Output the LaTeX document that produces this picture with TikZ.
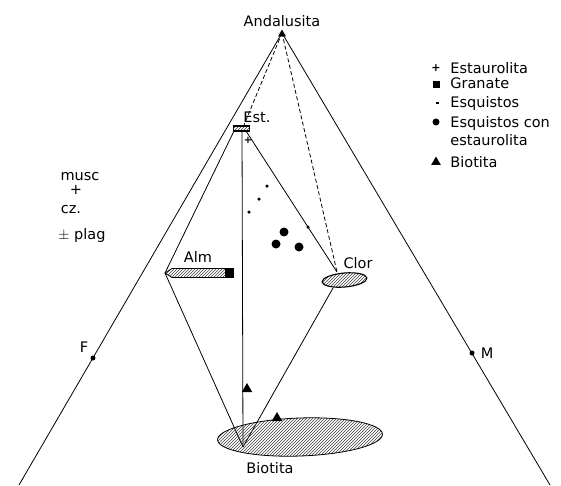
\documentclass[tikz,border=0pt]{standalone}
\usepackage{fontspec}
\setmainfont{DejaVu Sans}
\usetikzlibrary{patterns,shapes.geometric}
\begin{document}
\begin{tikzpicture}[x=1pt,y=-1pt,line width=0.8pt,
  lbl/.style={font=\fontsize{14.5}{16}\selectfont,inner sep=0pt},
  hatch/.style={pattern=north east lines,pattern color=black!75},
  sdot/.style={circle,fill,inner sep=0pt,minimum size=3.5pt},
  bdot/.style={circle,fill,inner sep=0pt,minimum size=9pt},
  tri/.style={regular polygon,regular polygon sides=3,fill,inner sep=0pt,minimum size=12pt},
  dsh/.style={dash pattern=on 4pt off 2.5pt}]
\useasboundingbox (0,0) rectangle (561,485);
% triangle
\coordinate (A) at (282,33);
\coordinate (BL) at (19,485);
\coordinate (BR) at (550,485);
\coordinate (Fpt) at (93,358);
\coordinate (Mpt) at (472,353);
\draw (BL) -- (A) -- (BR);
\node[tri,minimum size=9pt] (apex) at (282,34) {};
\node[sdot,minimum size=5pt] (fdot) at (Fpt) {};
\node[sdot,minimum size=5pt] (mdot) at (Mpt) {};
\node[lbl,anchor=base] (flab) at (84,352) {F};
\node[lbl,anchor=base] (mlab) at (487,358) {M};
\node[lbl,anchor=base] (andal) at (282,26) {Andalusita};
% key points
\coordinate (estL) at (234,131);
\coordinate (estC) at (242,131);
\coordinate (estR) at (246,131);
\coordinate (almtip) at (165,273);
\coordinate (clorT) at (337,272);
\coordinate (clorB) at (333,288);
\coordinate (bioB) at (243,447);
% tie lines
\draw (estL) -- (almtip) -- (bioB);
\draw (estC) -- (bioB);
\draw (estR) -- (clorT);
\draw (clorB) -- (bioB);
\draw[dsh] (A) -- (244,125);
\draw[dsh] (A) -- (clorT);
% Est.
\node[draw,line width=1.8pt,hatch,minimum width=16pt,minimum height=5pt,inner sep=0pt] (est) at (241.5,128.5) {};
\node[lbl,anchor=base] (estlab) at (257,122) {Est.};
\node[font=\fontsize{10}{10}\selectfont\bfseries,inner sep=0pt] (estplus) at (248,140) {+};
% Alm
\draw[hatch] (almtip) -- (172,268.5) -- (228,268.5) -- (228,277.5) -- (172,277.5) -- cycle;
\node[fill,minimum width=9pt,minimum height=10pt,inner sep=0pt] (gran) at (229.5,272.5) {};
\node[lbl,anchor=base] (almlab) at (198,262) {Alm};
% Clor
\node[ellipse,draw,line width=1.1pt,preaction={fill=white},hatch,minimum width=45pt,minimum height=14pt,inner sep=0pt,rotate=5] (clor) at (344.5,280) {};
\node[lbl,anchor=base] (clorlab) at (358,268) {Clor};
% Biotita
\node[ellipse,draw,hatch,minimum width=165pt,minimum height=38pt,inner sep=0pt,rotate=2] (bio) at (300,437) {};
\node[lbl,anchor=base] (biolab) at (270,473) {Biotita};
% data points
\node[sdot] (s1) at (267,186) {};
\node[sdot] (s2) at (259,199) {};
\node[sdot] (s3) at (249,212) {};
\node[sdot] (s4) at (308,227) {};
\node[bdot] (b1) at (284,232) {};
\node[bdot] (b2) at (276,244) {};
\node[bdot] (b3) at (299,247) {};
\node[tri] (t1) at (247,389) {};
\node[tri] (t2) at (277,418) {};
% left text
\node[lbl,anchor=base] (musc) at (80,180) {musc};
\node[lbl] (mplus) at (76,190) {+};
\node[lbl,anchor=base] (cz) at (71,213) {cz.};
\node[lbl,anchor=base] (plag) at (82,239) {$\pm$ plag};
% legend
\node[font=\fontsize{11}{11}\selectfont\bfseries,inner sep=0pt] (k1) at (436,68) {+};
\node[fill,minimum size=7pt,inner sep=0pt] (k2) at (436,84) {};
\node[fill,minimum width=3pt,minimum height=2pt,inner sep=0pt] (k3) at (437,103) {};
\node[bdot,minimum size=7pt] (k4) at (436,122) {};
\node[tri,minimum size=11pt] (k5) at (436,162) {};
\node[lbl,anchor=base west] (l1) at (450,73) {Estaurolita};
\node[lbl,anchor=base west] (l2) at (450,88) {Granate};
\node[lbl,anchor=base west] (l3) at (450,107) {Esquistos};
\node[lbl,anchor=base west] (l4) at (450,127) {Esquistos con};
\node[lbl,anchor=base west] (l5) at (450,145) {estaurolita};
\node[lbl,anchor=base west] (l6) at (450,167) {Biotita};
\end{tikzpicture}
\end{document}
